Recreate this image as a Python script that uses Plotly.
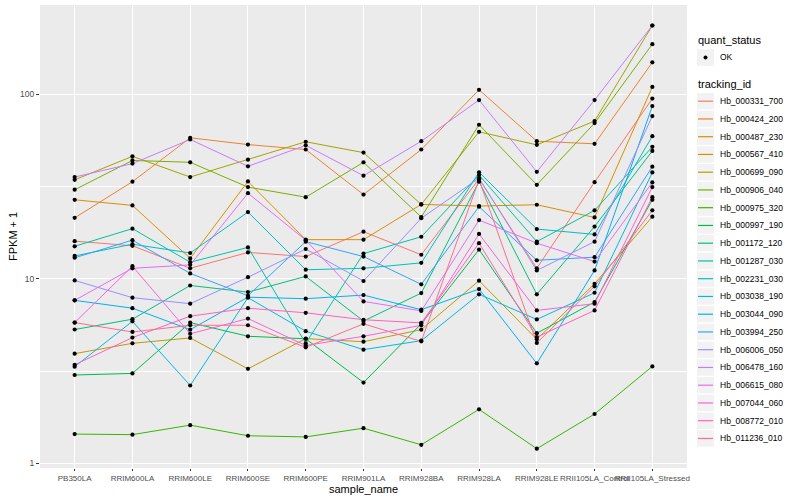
import plotly.graph_objects as go

samples = ["PB350LA", "RRIM600LA", "RRIM600LE", "RRIM600SE", "RRIM600PE", "RRIM901LA",
           "RRIM928BA", "RRIM928LA", "RRIM928LE", "RRII105LA_Control", "RRII105LA_Stressed"]

tracking_ids = ["Hb_000331_700", "Hb_000424_200", "Hb_000487_230", "Hb_000567_410",
                "Hb_000699_090", "Hb_000906_040", "Hb_000975_320", "Hb_000997_190",
                "Hb_001172_120", "Hb_001287_030", "Hb_002231_030", "Hb_003038_190",
                "Hb_003044_090", "Hb_003994_250", "Hb_006006_050", "Hb_006478_160",
                "Hb_006615_080", "Hb_007044_060", "Hb_008772_010", "Hb_011236_010"]

colors = ["#F8766D", "#EA8331", "#D89000", "#C09B00", "#A3A500", "#7CAE00", "#39B600",
          "#00BB4E", "#00BF7D", "#00C1A3", "#00BFC4", "#00BAE0", "#00B0F6", "#35A2FF",
          "#9590FF", "#C77CFF", "#E76BF3", "#FA62DB", "#FF62BC", "#FF6C91"]

quant_status = ["OK"]

# FPKM + 1 per sample
hb_000331_700 = [16.0, 15.1, 11.4, 13.9, 13.2, 18.0, 13.5, 34.8, 11.4, 33.4, 94.8]
hb_000424_200 = [21.4, 33.6, 58.1, 53.4, 50.2, 28.6, 50.2, 105.8, 55.7, 53.9, 149]
hb_000487_230 = [26.8, 25.0, 12.9, 33.7, 16.3, 16.3, 25.3, 24.8, 25.2, 21.5, 109.6]
hb_000567_410 = [3.93, 4.47, 4.78, 3.25, 4.74, 4.56, 5.30, 9.77, 4.70, 9.4, 21.7]
hb_000699_090 = [34.4, 46.1, 35.6, 44.2, 55.3, 48.3, 25.3, 62.6, 53.2, 71.6, 236]
hb_000906_040 = [30.4, 43.8, 42.8, 31.4, 27.7, 42.8, 21.6, 68.4, 32.3, 69.8, 187]
hb_000975_320 = [1.44, 1.43, 1.61, 1.41, 1.39, 1.55, 1.26, 1.96, 1.20, 1.85, 3.35]
hb_000997_190 = [3.01, 3.07, 5.79, 4.88, 4.73, 2.74, 5.7, 14.4, 5.07, 7.48, 26.8]
hb_001172_120 = [5.31, 6.04, 9.2, 8.47, 10.3, 5.9, 8.37, 33.6, 8.24, 19.2, 49.3]
hb_001287_030 = [15.0, 18.7, 12.3, 14.8, 4.47, 13.7, 16.9, 36.5, 15.9, 23.5, 51.9]
hb_002231_030 = [13.3, 15.4, 13.8, 23.0, 11.2, 11.4, 12.2, 37.8, 18.6, 17.4, 59.3]
hb_003038_190 = [3.34, 5.88, 2.64, 7.9, 5.20, 4.13, 4.62, 8.24, 6.02, 8.4, 37.7]
hb_003044_090 = [7.64, 6.93, 5.30, 7.95, 7.8, 8.16, 6.8, 8.8, 3.48, 11.1, 86.3]
hb_003994_250 = [13.0, 16.2, 10.7, 8.1, 15.9, 13.2, 9.33, 24.6, 12.6, 13.1, 40.5]
hb_006006_050 = [9.8, 7.9, 7.33, 10.2, 14.5, 9.73, 21.3, 35.1, 11.1, 15.9, 76.2]
hb_006478_160 = [35.6, 42.1, 56.9, 40.7, 52.9, 36.2, 55.7, 93.1, 38.0, 93.1, 236]
hb_006615_080 = [7.64, 11.4, 11.9, 29.1, 16.2, 7.54, 6.7, 20.8, 15.6, 12.4, 33.3]
hb_007044_060 = [5.79, 11.7, 5.03, 6.09, 4.35, 4.88, 5.6, 17.5, 6.74, 7.33, 31.4]
hb_008772_010 = [3.42, 4.80, 6.27, 6.93, 6.54, 6.0, 5.77, 15.6, 4.83, 6.74, 27.7]
hb_011236_010 = [5.79, 5.15, 5.6, 5.60, 4.25, 5.7, 4.58, 34.5, 4.49, 9.1, 23.5]

series = [hb_000331_700, hb_000424_200, hb_000487_230, hb_000567_410, hb_000699_090,
          hb_000906_040, hb_000975_320, hb_000997_190, hb_001172_120, hb_001287_030,
          hb_002231_030, hb_003038_190, hb_003044_090, hb_003994_250, hb_006006_050,
          hb_006478_160, hb_006615_080, hb_007044_060, hb_008772_010, hb_011236_010]

FONT = "Liberation Sans, Arial, sans-serif"
W, H = 800, 500
ML, MR, MT, MB = 40, 113, 5, 32
PW, PH = W - ML - MR, H - MT - MB


def px(xp):
    return (xp - ML) / PW


def py(yp):
    return (H - MB - yp) / PH


fig = go.Figure()

for tid, col, vals in zip(tracking_ids, colors, series):
    fig.add_trace(go.Scatter(
        x=samples, y=vals, mode="lines", name=tid, showlegend=False,
        line=dict(color=col, width=1),
    ))

all_x = [s for _ in series for s in samples]
all_y = [v for vals in series for v in vals]
fig.add_trace(go.Scatter(
    x=all_x, y=all_y, mode="markers", name=quant_status[0], showlegend=False,
    marker=dict(color="black", size=4.2, symbol="circle"),
))

# ---- manual ggplot-style legend ----
shapes = []
annotations = []
key_l, key_r = 697, 714
text_x = 718

annotations.append(dict(text="quant_status", x=px(696), y=py(40.5), xref="paper", yref="paper",
                        xanchor="left", yanchor="middle", showarrow=False,
                        font=dict(size=11, color="black", family=FONT)))
ok_y = 57.5
shapes.append(dict(type="rect", xref="paper", yref="paper", x0=px(key_l), x1=px(key_r),
                   y0=py(ok_y - 8.3), y1=py(ok_y + 8.3), fillcolor="#F2F2F2", line=dict(width=0)))
shapes.append(dict(type="circle", xref="paper", yref="paper", x0=px(703.5), x1=px(707.5),
                   y0=py(ok_y - 2), y1=py(ok_y + 2), fillcolor="black", line=dict(width=0)))
annotations.append(dict(text=quant_status[0], x=px(text_x), y=py(ok_y), xref="paper", yref="paper",
                        xanchor="left", yanchor="middle", showarrow=False,
                        font=dict(size=8.5, color="black", family=FONT)))

annotations.append(dict(text="tracking_id", x=px(696), y=py(84.5), xref="paper", yref="paper",
                        xanchor="left", yanchor="middle", showarrow=False,
                        font=dict(size=11, color="black", family=FONT)))
start_y, step = 101.2, 17.75
for i, (tid, col) in enumerate(zip(tracking_ids, colors)):
    yc = start_y + i * step
    shapes.append(dict(type="rect", xref="paper", yref="paper", x0=px(key_l), x1=px(key_r),
                       y0=py(yc - 8.2), y1=py(yc + 8.2), fillcolor="#F2F2F2", line=dict(width=0)))
    shapes.append(dict(type="line", xref="paper", yref="paper", x0=px(key_l + 1), x1=px(key_r - 1),
                       y0=py(yc), y1=py(yc), line=dict(color=col, width=1.2)))
    annotations.append(dict(text=tid, x=px(text_x), y=py(yc), xref="paper", yref="paper",
                            xanchor="left", yanchor="middle", showarrow=False,
                            font=dict(size=8.5, color="black", family=FONT)))

# axis titles
annotations.append(dict(text="sample_name", x=0.5, y=py(489), xref="paper", yref="paper",
                        xanchor="center", yanchor="middle", showarrow=False,
                        font=dict(size=11, color="black", family=FONT)))
annotations.append(dict(text="FPKM + 1", x=px(13), y=py(236), xref="paper", yref="paper",
                        xanchor="center", yanchor="middle", showarrow=False, textangle=-90,
                        font=dict(size=11, color="black", family=FONT)))

fig.update_layout(
    width=W, height=H,
    margin=dict(l=ML, r=MR, t=MT, b=MB, autoexpand=False),
    paper_bgcolor="white", plot_bgcolor="#EBEBEB",
    font=dict(family=FONT, size=9, color="#4D4D4D"),
    showlegend=False,
    shapes=shapes, annotations=annotations,
)

fig.update_xaxes(
    type="category", categoryorder="array", categoryarray=samples,
    tickmode="array", tickvals=samples, ticktext=samples, tickangle=0,
    range=[-0.6, 10.6], automargin=False,
    showgrid=True, gridcolor="white", gridwidth=1.1,
    ticks="outside", ticklen=2, tickcolor="#333333",
    tickfont=dict(size=8, color="#4D4D4D", family=FONT),
    showline=False, zeroline=False,
)

fig.update_yaxes(
    type="log", range=[-0.0255, 2.484], automargin=False,
    tickmode="array", tickvals=[1, 10, 100], ticktext=["1", "10", "100"],
    showgrid=True, gridcolor="white", gridwidth=1.1,
    minor=dict(tickmode="array", tickvals=[3.1623, 31.623], showgrid=True,
               gridcolor="white", gridwidth=0.5, ticks=""),
    ticks="outside", ticklen=3, tickcolor="#333333",
    tickfont=dict(size=8.5, color="#4D4D4D", family=FONT),
    showline=False, zeroline=False,
)

fig.write_html("out.html",
               config={"displayModeBar": False},
               post_script="document.body.style.margin='0';document.body.style.padding='0';")
